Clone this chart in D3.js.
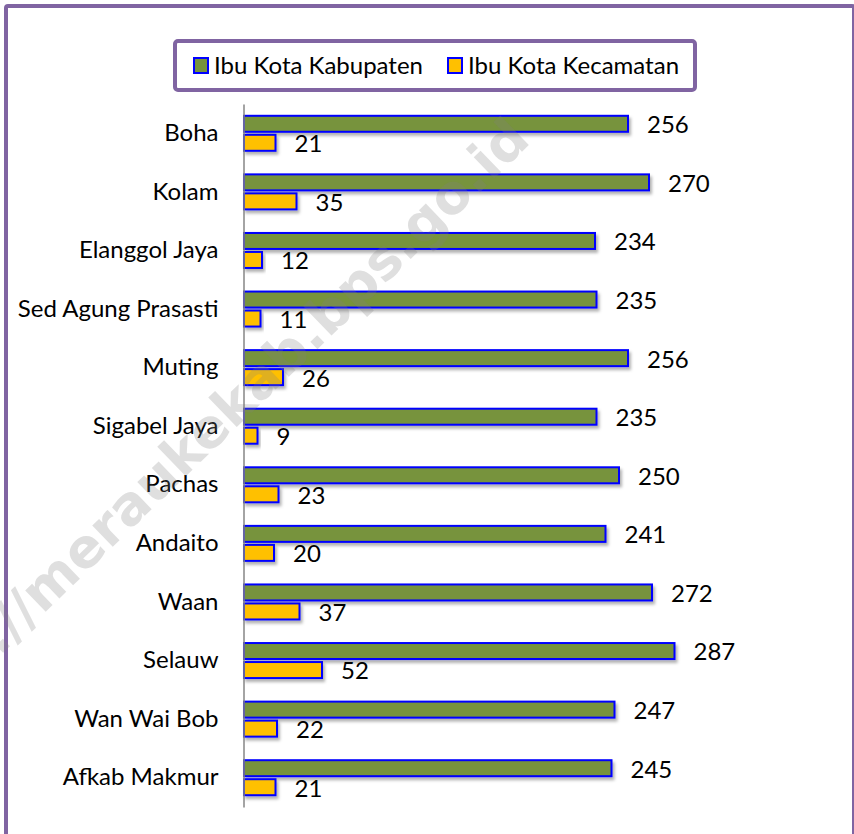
<!DOCTYPE html>
<html>
<head>
<meta charset="utf-8">
<script src="https://cdn.jsdelivr.net/npm/d3@7"></script>
<style>
  body { margin: 0; background: #fff; }
  svg { display: block; }
  text { font-family: Lato, "Open Sans", sans-serif; fill: #000; }
</style>
</head>
<body>
<svg id="chart"></svg>
<script>
// data
const categories = ["Boha", "Kolam", "Elanggol Jaya", "Sed Agung Prasasti", "Muting",
  "Sigabel Jaya", "Pachas", "Andaito", "Waan", "Selauw", "Wan Wai Bob", "Afkab Makmur"];
const seriesNames = ["Ibu Kota Kabupaten", "Ibu Kota Kecamatan"];
const kabupatenValues = [256, 270, 234, 235, 256, 235, 250, 241, 272, 287, 247, 245];
const kecamatanValues = [21, 35, 12, 11, 26, 9, 23, 20, 37, 52, 22, 21];
const watermarkText = "http://meraukekab.bps.go.id";

const W = 854, H = 834;
const colors = { "Ibu Kota Kabupaten": "#77933C", "Ibu Kota Kecamatan": "#FFC000" };

const svg = d3.select("#chart").attr("width", W).attr("height", H);

const defs = svg.append("defs");
const shadow = defs.append("filter").attr("id", "shadow")
  .attr("x", "-10%").attr("y", "-50%").attr("width", "130%").attr("height", "250%");
shadow.append("feDropShadow")
  .attr("dx", 2).attr("dy", 3).attr("stdDeviation", 1.8)
  .attr("flood-color", "#000").attr("flood-opacity", 0.3);

// outer frame (right and bottom edges run off the picture)
svg.append("rect")
  .attr("x", 6).attr("y", 6).attr("width", 848).attr("height", H + 20)
  .attr("rx", 2)
  .attr("fill", "#fff").attr("stroke", "#8064A2").attr("stroke-width", 4);

// rows
const rows = categories.map((c, i) => ({
  name: c,
  values: [
    { key: seriesNames[0], value: kabupatenValues[i] },
    { key: seriesNames[1], value: kecamatanValues[i] }
  ]
}));

const x = d3.scaleLinear().domain([0, 300]).range([244, 694]);
const y = d3.scaleBand().domain(categories).range([104, 807]);
const center = y.bandwidth() / 2;
const yInner = d3.scaleBand().domain(seriesNames)
  .range([center - 17.5, center + 17.5]).paddingInner(3 / 19);

const groups = svg.append("g").selectAll("g")
  .data(rows).join("g")
  .attr("transform", d => `translate(0,${y(d.name)})`);

groups.selectAll("rect")
  .data(d => d.values).join("rect")
  .attr("x", x(0))
  .attr("y", d => yInner(d.key))
  .attr("width", d => x(d.value) - x(0))
  .attr("height", yInner.bandwidth())
  .attr("fill", d => colors[d.key])
  .attr("stroke", "#0000FF")
  .attr("stroke-width", 2)
  .attr("filter", "url(#shadow)");

groups.selectAll("text.val")
  .data(d => d.values).join("text")
  .attr("class", "val")
  .attr("x", d => x(d.value) + 19)
  .attr("y", d => yInner(d.key) + yInner.bandwidth() / 2 + 1)
  .attr("dy", "0.35em")
  .style("font-size", "24px")
  .text(d => d.value);

// category axis
const axis = svg.append("g")
  .attr("transform", `translate(${x(0) - 0.5},0)`)
  .call(d3.axisLeft(y).tickSize(0).tickPadding(25));
axis.select(".domain").attr("stroke", "#868686").attr("stroke-width", 1.5);
axis.selectAll("text")
  .style("font-family", "Lato, 'Open Sans', sans-serif")
  .style("font-size", "24px")
  .attr("fill", "#000");

// legend
const legend = svg.append("g");
legend.append("rect")
  .attr("x", 175).attr("y", 41).attr("width", 520).attr("height", 49)
  .attr("rx", 3)
  .attr("fill", "#fff").attr("stroke", "#8064A2").attr("stroke-width", 4);

const legendX = [194, 448];
const items = legend.selectAll("g.item")
  .data(seriesNames).join("g")
  .attr("class", "item")
  .attr("transform", (d, i) => `translate(${legendX[i]},58)`);
items.append("rect")
  .attr("width", 14).attr("height", 15)
  .attr("fill", d => colors[d])
  .attr("stroke", "#0000FF").attr("stroke-width", 2);
items.append("text")
  .attr("x", 20).attr("y", 8).attr("dy", "0.35em")
  .style("font-size", "24px")
  .text(d => d);

// watermark on top
svg.append("text")
  .attr("transform", "translate(532,142) rotate(-44)")
  .attr("text-anchor", "end")
  .style("font-family", "'DejaVu Sans', sans-serif")
  .style("font-weight", "bold")
  .style("font-size", "54px")
  .style("fill", "#7f7f7f")
  .style("fill-opacity", 0.25)
  .text(watermarkText);
</script>
</body>
</html>
